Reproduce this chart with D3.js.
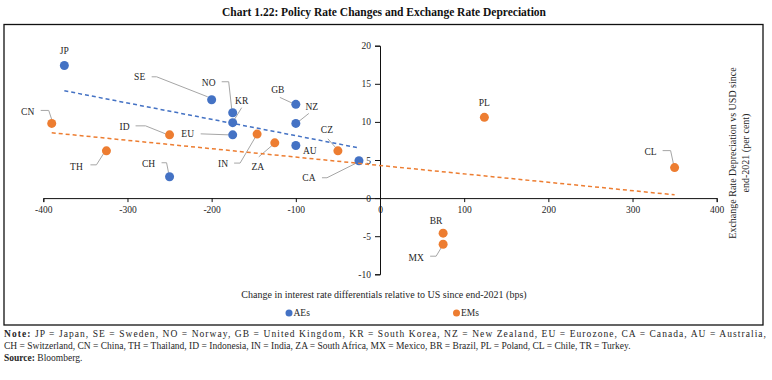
<!DOCTYPE html>
<html>
<head>
<meta charset="utf-8">
<script src="https://cdn.jsdelivr.net/npm/d3@7"></script>
<style>
  body { margin: 0; background: #fff; }
  svg text { font-family: "Liberation Serif", "Times New Roman", serif; fill: #262626; }
</style>
</head>
<body>
<div id="chart"></div>
<script>
// AEs
var aeCodes = ["JP", "SE", "NO", "KR", "EU", "GB", "NZ", "AU", "CH", "CA"];
var aeX = [-375, -200, -175, -175, -175, -100, -100, -100, -250, -25];
var aeY = [17.4, 12.9, 11.2, 9.9, 8.3, 12.3, 9.8, 6.9, 2.8, 4.9];

// EMs
var emCodes = ["CN", "ID", "TH", "IN", "ZA", "CZ", "PL", "CL", "BR", "MX"];
var emX = [-390, -250, -325, -146, -125, -50, 124, 350, 75, 75];
var emY = [9.8, 8.3, 6.2, 8.4, 7.25, 6.2, 10.6, 4.0, -4.6, -6.05];

var xTicks = [-400, -300, -200, -100, 0, 100, 200, 300, 400];
var yTicks = [-10, -5, 0, 5, 10, 15, 20];

var seriesNames = ["AEs", "EMs"];
var colors = ["#4472C4", "#ED7D31"];

// label placement: l = label offset from dot, p = leader points relative to the dot
var labelPos = {
  JP: { l: [0, -15] },
  SE: { l: [-72, -23], p: [[-60, -23], [-55, -23], [-4, -3]] },
  NO: { l: [-24, -30], p: [[-11, -31], [-4, -31], [-1, -4]] },
  KR: { l: [9, -22], p: [[9, -15], [1, -2]] },
  EU: { l: [-45, -1], p: [[-32, -1], [-4, 0]] },
  GB: { l: [-18, -15], p: [[-16, -7], [-3, -1]] },
  NZ: { l: [16, -17], p: [[13, -10], [3, -2]] },
  AU: { l: [14, 5] },
  CH: { l: [-21, -13], p: [[-8, -14], [-3, -14], [-1, -4]] },
  CA: { l: [-50, 17], p: [[-37, 17], [-32, 17], [-2, 2]] },
  CN: { l: [-24, -12], p: [[-11, -13], [-3, -13], [0, -4]] },
  ID: { l: [-45, -8], p: [[-34, -9], [-24, -9], [-4, -1]] },
  TH: { l: [-30, 16], p: [[-16, 14], [-10, 14], [-3, 3]] },
  IN: { l: [-34, 30], p: [[-23, 29], [-17, 29], [-2, 3.5]] },
  ZA: { l: [-17, 24], p: [[-16, 14], [-2, 2]] },
  CZ: { l: [-11, -21], p: [[-10, -12], [-2, -3]] },
  PL: { l: [0, -15] },
  CL: { l: [-24, -16], p: [[-12, -17], [-4, -17], [-1, -3]] },
  BR: { l: [-7, -12] },
  MX: { l: [-27, 13], p: [[-13, 12], [-7, 12], [-1, 2]] }
};

var width = 772, height = 380;

var svg = d3
  .select("#chart")
  .append("svg")
  .attr("width", width)
  .attr("height", height);

svg
  .append("text")
  .attr("x", 384)
  .attr("y", 16)
  .attr("text-anchor", "middle")
  .style("font-size", "11.5px")
  .style("font-weight", "bold")
  .style("fill", "#111")
  .text("Chart 1.22: Policy Rate Changes and Exchange Rate Depreciation");

svg
  .append("rect")
  .attr("x", 4)
  .attr("y", 24.5)
  .attr("width", 759)
  .attr("height", 300.5)
  .attr("fill", "none")
  .attr("stroke", "#111")
  .attr("stroke-width", 1.3);

var x = d3.scaleLinear().domain([-400, 400]).range([43.3, 716.7]);
var y = d3.scaleLinear().domain([-10, 20]).range([274.3, 45.7]);

function fmt(d) { return String(d); }

var xAxis = svg
  .append("g")
  .attr("transform", "translate(0," + y(0) + ")")
  .call(d3.axisBottom(x).tickValues(xTicks).tickSize(4).tickPadding(4).tickFormat(fmt));

var yAxis = svg
  .append("g")
  .attr("transform", "translate(" + x(0) + ",0)")
  .call(d3.axisLeft(y).tickValues(yTicks).tickSize(5).tickPadding(4).tickFormat(fmt));

[xAxis, yAxis].forEach(function (g) {
  g.attr("font-family", null);
  g.selectAll("path, line").attr("stroke", "#111");
  g.selectAll("text").style("font-size", "9.5px").attr("fill", "#333");
});

svg
  .append("text")
  .attr("x", 384)
  .attr("y", 298)
  .attr("text-anchor", "middle")
  .style("font-size", "10px")
  .text("Change in interest rate differentials relative to US since end-2021 (bps)");

var yTitle = svg
  .append("text")
  .attr("transform", "translate(736,153) rotate(-90)")
  .attr("text-anchor", "middle")
  .style("font-size", "10px");
yTitle.append("tspan").attr("x", 0).attr("y", 0).text("Exchange Rate Depreciation vs USD since");
yTitle.append("tspan").attr("x", 0).attr("y", 12.5).text("end-2021 (per cent)");

var series = [
  { codes: aeCodes, xs: aeX, ys: aeY },
  { codes: emCodes, xs: emX, ys: emY }
];

var points = [];
series.forEach(function (s, si) {
  s.codes.forEach(function (c, i) {
    points.push({ code: c, x: s.xs[i], y: s.ys[i], s: si });
  });
});

// leader lines
points.forEach(function (d) {
  var lp = labelPos[d.code];
  if (!lp.p) return;
  var px = x(d.x), py = y(d.y);
  svg
    .append("path")
    .attr("d", d3.line()(lp.p.map(function (o) { return [px + o[0], py + o[1]]; })))
    .attr("fill", "none")
    .attr("stroke", "#A6A6A6")
    .attr("stroke-width", 1);
});

svg
  .selectAll("circle.dot")
  .data(points)
  .enter()
  .append("circle")
  .attr("class", "dot")
  .attr("cx", function (d) { return x(d.x); })
  .attr("cy", function (d) { return y(d.y); })
  .attr("r", 4.5)
  .attr("fill", function (d) { return colors[d.s]; });

// linear trend lines (least squares over each group)
series.forEach(function (s, si) {
  var mx = d3.mean(s.xs), my = d3.mean(s.ys);
  var sxy = d3.sum(s.xs, function (v, i) { return (v - mx) * (s.ys[i] - my); });
  var sxx = d3.sum(s.xs, function (v) { return (v - mx) * (v - mx); });
  var b = sxy / sxx, a = my - b * mx;
  var ext = d3.extent(s.xs);
  svg
    .append("path")
    .attr("d", d3.line()(ext.map(function (v) { return [x(v), y(a + b * v)]; })))
    .attr("fill", "none")
    .attr("stroke", colors[si])
    .attr("stroke-width", 1.5)
    .attr("stroke-dasharray", "4,3");
});

svg
  .selectAll("text.lbl")
  .data(points)
  .enter()
  .append("text")
  .attr("class", "lbl")
  .attr("x", function (d) { return x(d.x) + labelPos[d.code].l[0]; })
  .attr("y", function (d) { return y(d.y) + labelPos[d.code].l[1]; })
  .attr("dy", "0.35em")
  .attr("text-anchor", "middle")
  .style("font-size", "9.5px")
  .text(function (d) { return d.code; });

// legend
var legend = svg
  .selectAll("g.legend")
  .data(seriesNames)
  .enter()
  .append("g")
  .attr("class", "legend")
  .attr("transform", function (d, i) { return "translate(" + (289 + i * 167.5) + ",313)"; });
legend.append("circle").attr("r", 3.5).attr("fill", function (d, i) { return colors[i]; });
legend
  .append("text")
  .attr("x", 4.5)
  .attr("dy", "0.35em")
  .style("font-size", "9.5px")
  .text(function (d) { return d; });

// notes
var note1 = svg
  .append("text")
  .attr("x", 4)
  .attr("y", 337)
  .attr("textLength", 762)
  .attr("lengthAdjust", "spacing")
  .style("font-size", "9.5px");
note1.append("tspan").style("font-weight", "bold").text("Note:");
note1
  .append("tspan")
  .text(" JP = Japan, SE = Sweden, NO = Norway, GB = United Kingdom, KR = South Korea, NZ = New Zealand, EU = Eurozone, CA = Canada, AU = Australia,");

svg
  .append("text")
  .attr("x", 4)
  .attr("y", 349)
  .style("font-size", "9.5px")
  .text("CH = Switzerland, CN = China, TH = Thailand, ID = Indonesia, IN = India, ZA = South Africa, MX = Mexico, BR = Brazil, PL = Poland, CL = Chile, TR = Turkey.");

var src = svg
  .append("text")
  .attr("x", 4)
  .attr("y", 360.5)
  .style("font-size", "9.5px");
src.append("tspan").style("font-weight", "bold").text("Source:");
src.append("tspan").text(" Bloomberg.");
</script>
</body>
</html>
